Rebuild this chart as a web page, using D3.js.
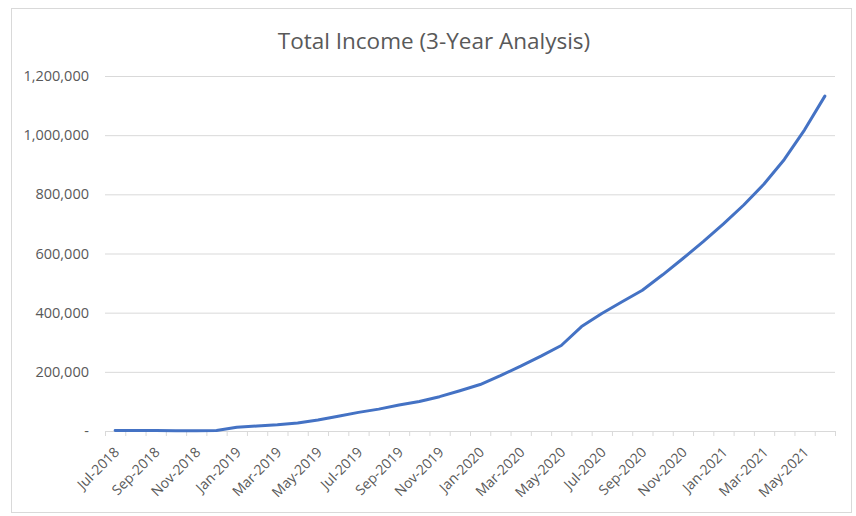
<!DOCTYPE html>
<html>
<head>
<meta charset="utf-8">
<script src="https://cdn.jsdelivr.net/npm/d3@7"></script>
<style>
  body { margin: 0; background: #fff; }
  .tick text { font-family: "Open Sans", "Noto Sans", sans-serif; fill: #595959; }
</style>
</head>
<body>
<div id="chart"></div>
<script>
var svgWidth = 856;
var svgHeight = 516;

var margin = { top: 76, right: 21, bottom: 85, left: 105 };
var width = svgWidth - margin.left - margin.right;
var height = svgHeight - margin.top - margin.bottom;

// Data, one value per month
var months = [
  "Jul-2018", "Aug-2018", "Sep-2018", "Oct-2018", "Nov-2018", "Dec-2018",
  "Jan-2019", "Feb-2019", "Mar-2019", "Apr-2019", "May-2019", "Jun-2019",
  "Jul-2019", "Aug-2019", "Sep-2019", "Oct-2019", "Nov-2019", "Dec-2019",
  "Jan-2020", "Feb-2020", "Mar-2020", "Apr-2020", "May-2020", "Jun-2020",
  "Jul-2020", "Aug-2020", "Sep-2020", "Oct-2020", "Nov-2020", "Dec-2020",
  "Jan-2021", "Feb-2021", "Mar-2021", "Apr-2021", "May-2021", "Jun-2021"
];
var income = [
  2000, 1800, 1500, 1200, 1000, 1500,
  13000, 17000, 21000, 27000, 37000, 50000,
  63000, 74000, 88000, 100000, 116000, 136000,
  157000, 187000, 219000, 253000, 289000, 353000,
  397000, 437000, 476000, 528000, 583000, 640000,
  700000, 764000, 835000, 918000, 1018000, 1132000
];
var yTicks = [0, 200000, 400000, 600000, 800000, 1000000, 1200000];
// only every other month gets a label
var xLabels = months.filter((m, i) => i % 2 === 0);

var svg = d3.select("#chart")
  .append("svg")
  .attr("width", svgWidth)
  .attr("height", svgHeight);

// chart frame
svg.append("rect")
  .attr("x", 11.5)
  .attr("y", 8.5)
  .attr("width", 840)
  .attr("height", 504)
  .attr("fill", "#fff")
  .attr("stroke", "#d9d9d9");

svg.append("text")
  .attr("x", 434)
  .attr("y", 49)
  .attr("text-anchor", "middle")
  .attr("font-family", "'Open Sans', 'Noto Sans', sans-serif")
  .attr("font-size", 22.5)
  .attr("fill", "#595959")
  .text("Total Income (3-Year Analysis)");

var chartGroup = svg.append("g")
  .attr("transform", `translate(${margin.left}, ${margin.top})`);

// Scales
var xBand = d3.scaleBand()
  .domain(months)
  .range([0, width])
  .padding(0);
var xEdge = d3.scaleLinear()
  .domain([0, months.length])
  .range([0, width]);
var yLinearScale = d3.scaleLinear()
  .domain([0, 1200000])
  .range([height, 0]);

// Gridlines
chartGroup.append("g")
  .call(d3.axisLeft(yLinearScale).tickValues(yTicks).tickSize(-width).tickFormat(""))
  .call(g => g.select(".domain").remove())
  .call(g => g.selectAll("line").attr("stroke", "#d9d9d9"));

// Y axis labels
chartGroup.append("g")
  .call(d3.axisLeft(yLinearScale)
    .tickValues(yTicks)
    .tickSize(0)
    .tickPadding(16)
    .tickFormat(d => d === 0 ? "-" : d3.format(",")(d)))
  .call(g => g.select(".domain").remove())
  .call(g => g.selectAll("text").attr("font-size", 14.5));

// X axis: tick marks at month boundaries
chartGroup.append("g")
  .attr("transform", `translate(0, ${height})`)
  .call(d3.axisBottom(xEdge).tickValues(d3.range(months.length + 1)).tickSize(5).tickFormat(""))
  .call(g => g.select(".domain").attr("stroke", "#d9d9d9"))
  .call(g => g.selectAll("line").attr("stroke", "#d9d9d9"));

// X axis labels, centred on their month, turned 45 degrees
chartGroup.append("g")
  .attr("transform", `translate(0, ${height})`)
  .call(d3.axisBottom(xBand).tickValues(xLabels).tickSize(0))
  .call(g => g.select(".domain").remove())
  .selectAll("text")
  .attr("font-size", 14)
  .attr("text-anchor", "end")
  .attr("dx", "0.2em")
  .attr("dy", "0.7em")
  .attr("transform", "translate(-6, 15) rotate(-45)");

// Line
var line = d3.line()
  .x((d, i) => xBand(months[i]) + xBand.bandwidth() / 2)
  .y(d => yLinearScale(d));

chartGroup.append("path")
  .datum(income)
  .attr("fill", "none")
  .attr("stroke", "#4472c4")
  .attr("stroke-width", 3)
  .attr("stroke-linejoin", "round")
  .attr("stroke-linecap", "round")
  .attr("d", line);
</script>
</body>
</html>
